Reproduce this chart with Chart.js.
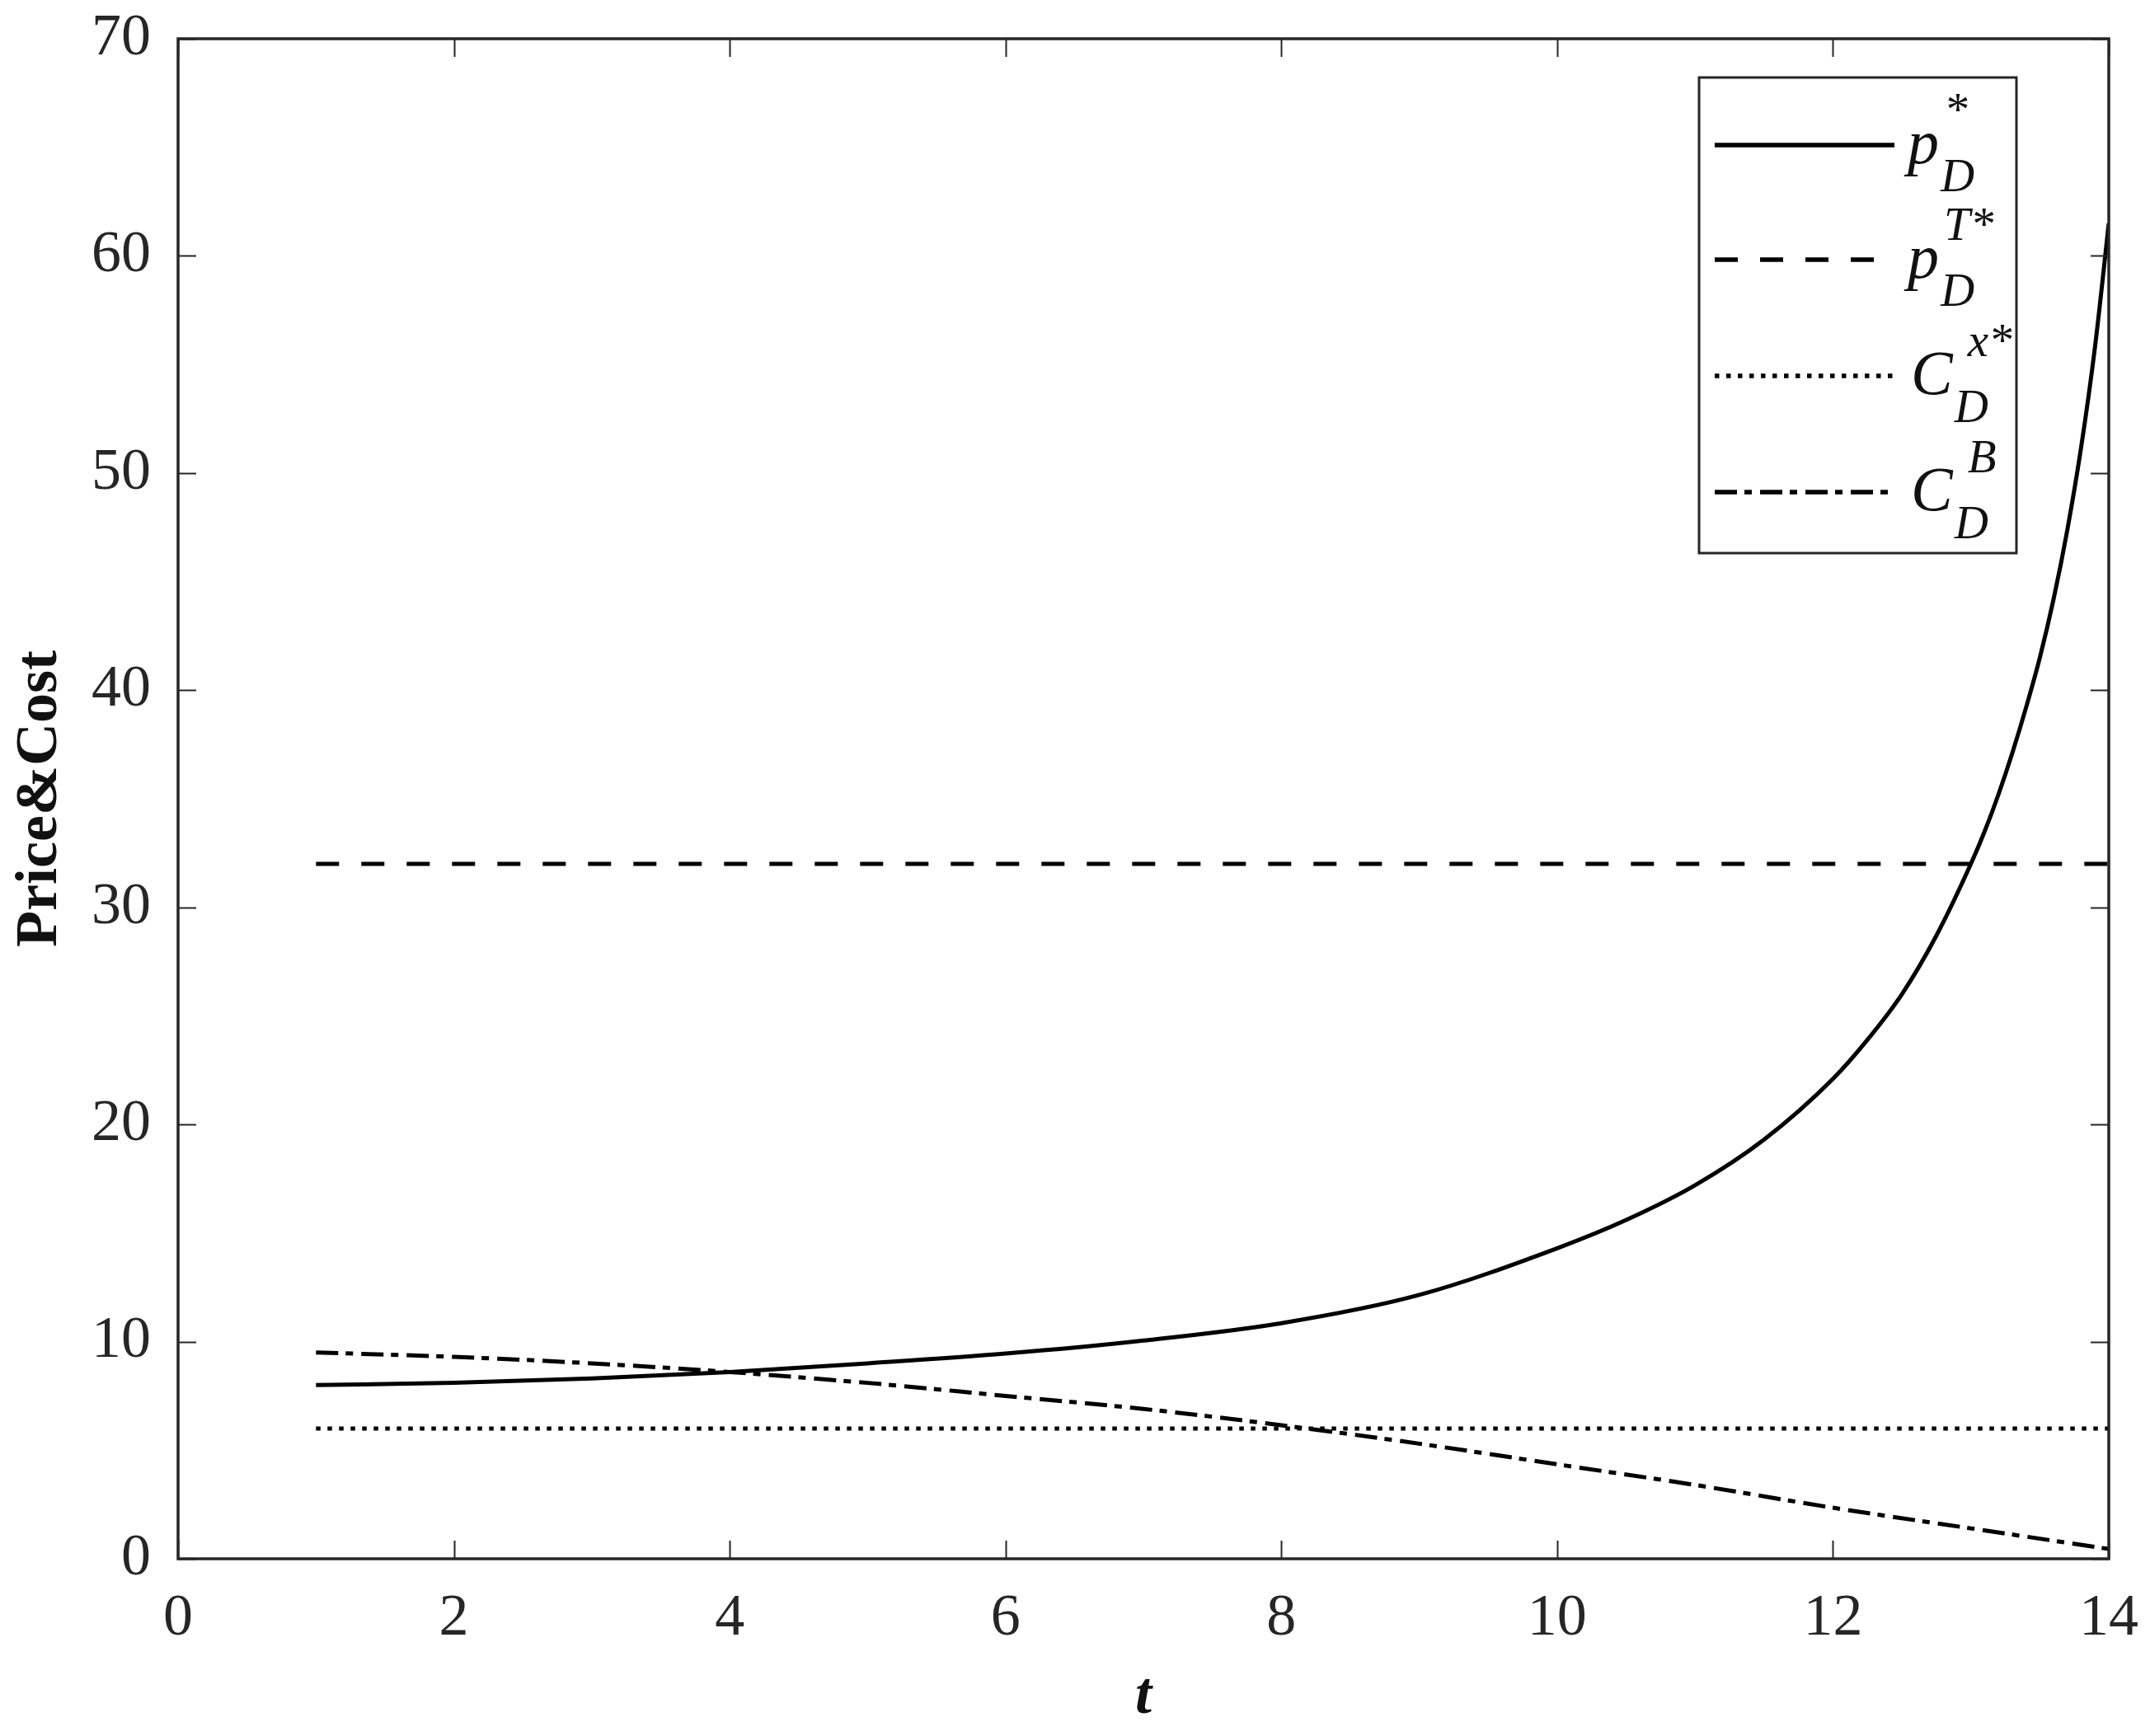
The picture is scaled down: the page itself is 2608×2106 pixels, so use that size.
<!DOCTYPE html>
<html><head><meta charset="utf-8">
<script src="https://cdn.jsdelivr.net/npm/chart.js@4.4.1/dist/chart.umd.min.js"></script>
<style>html,body{margin:0;padding:0;background:#fff;}</style>
</head><body>
<canvas id="c" width="2608" height="2106" style="display:block;width:2608px;height:2106px"></canvas>
<script>
// ---- data ----
const tP = [1,2,3,4,5,6,7,8,9,10,10.5,11,11.5,12,12.25,12.5,12.75,13,13.1,13.2,13.3,13.4,13.5,13.6,13.7,13.8,13.9,14];
const pD = [8.0,8.1,8.3,8.6,9.0,9.45,10.05,10.85,12.15,14.3,15.6,17.2,19.3,22.1,23.9,26.0,28.7,32.0,33.5,35.2,37.1,39.2,41.5,44.2,47.4,51.2,55.8,61.5];
const tConst = [1, 14];
const pDT = [32, 32];
const cDx = [6, 6];
const tB = [1,2,3,4,5,6,7,8,9,10,11,12,13,14];
const cDB = [9.5,9.3,9.0,8.6,8.1,7.5,6.9,6.15,5.3,4.35,3.4,2.35,1.4,0.45];
const xTicks = [0,2,4,6,8,10,12,14];
const yTicks = [0,10,20,30,40,50,60,70];
const legendItems = [
  {main:'p', sub:'D', sup:'*'},
  {main:'p', sub:'D', sup:'T*'},
  {main:'C', sub:'D', sup:'x*'},
  {main:'C', sub:'D', sup:'B'}
];
const xTitle = 't';
const yTitle = 'Price&Cost';

const FONT = '"Liberation Serif", "Times New Roman", serif';
const AX = '#262626';
const toPts = (xs, ys) => xs.map((x, i) => ({x: x, y: ys[i]}));

const dashStyles = [[], [28, 27], [5.5, 8.5], [27, 9, 9, 10]];
const datasets = [
  {label:'pD*', data: toPts(tP, pD)},
  {label:'pDT*', data: toPts(tConst, pDT)},
  {label:'CDx*', data: toPts(tConst, cDx)},
  {label:'CDB', data: toPts(tB, cDB)}
].map((d, i) => Object.assign(d, {
  borderColor:'#000', borderWidth: 5, borderDash: dashStyles[i], borderCapStyle:'butt',
  pointRadius: 0, fill: false, cubicInterpolationMode: 'monotone'
}));

const zeroPad = s => { s.paddingTop = 0; s.paddingBottom = 0; s.paddingLeft = 0; s.paddingRight = 0; };

const frame = {
  id: 'frame',
  afterDraw(chart) {
    const ctx = chart.ctx, a = chart.chartArea, xs = chart.scales.x, ys = chart.scales.y;
    ctx.save();
    ctx.strokeStyle = AX; ctx.lineWidth = 2;
    const TL = 22;
    ctx.beginPath();
    xs.ticks.forEach(t => {
      const px = Math.round(xs.getPixelForValue(t.value)) + 0.5;
      ctx.moveTo(px, a.bottom); ctx.lineTo(px, a.bottom - TL);
      ctx.moveTo(px, a.top); ctx.lineTo(px, a.top + TL);
    });
    ys.ticks.forEach(t => {
      const py = Math.round(ys.getPixelForValue(t.value)) + 0.5;
      ctx.moveTo(a.left, py); ctx.lineTo(a.left + TL, py);
      ctx.moveTo(a.right, py); ctx.lineTo(a.right - TL, py);
    });
    ctx.stroke();
    ctx.lineWidth = 3.5;
    ctx.strokeRect(a.left, a.top, a.right - a.left, a.bottom - a.top);

    // legend
    const L = {x0: 2061, y0: 94, x1: 2446, y1: 671};
    ctx.fillStyle = '#fff';
    ctx.fillRect(L.x0, L.y0, L.x1 - L.x0, L.y1 - L.y0);
    ctx.lineWidth = 3; ctx.strokeStyle = AX;
    ctx.strokeRect(L.x0, L.y0, L.x1 - L.x0, L.y1 - L.y0);
    const rows = [176, 315, 456, 597];
    legendItems.forEach((it, i) => {
      const ds = chart.data.datasets[i];
      const Ly = rows[i];
      ctx.save();
      ctx.strokeStyle = ds.borderColor; ctx.lineWidth = 5.5; ctx.lineCap = 'butt';
      ctx.setLineDash(ds.borderDash);
      ctx.beginPath(); ctx.moveTo(2080, Ly); ctx.lineTo(2298, Ly); ctx.stroke();
      ctx.restore();
      ctx.fillStyle = '#111';
      ctx.textBaseline = 'alphabetic'; ctx.textAlign = 'left';
      const mx = it.main === 'p' ? 2314 : 2318;
      ctx.font = 'italic 76px ' + FONT;
      ctx.fillText(it.main, mx, Ly + 22);
      const w = ctx.measureText(it.main).width;
      ctx.font = 'italic 57px ' + FONT;
      ctx.fillText(it.sub, mx + w + 2, Ly + 56);
      const supX = it.main === 'p' ? mx + w + 6 : mx + w + 18;
      ctx.fillText(it.sup, supX, Ly - 24);
    });
    ctx.restore();
  }
};

new Chart(document.getElementById('c'), {
  type: 'line',
  data: {datasets: datasets},
  plugins: [frame],
  options: {
    responsive: false, animation: false, devicePixelRatio: 1,
    layout: {padding: {top: 47, right: 50, left: 0, bottom: 0}},
    plugins: {legend: {display: false}, tooltip: {enabled: false}},
    scales: {
      x: {
        type: 'linear', min: 0, max: 14,
        afterBuildTicks: s => { s.ticks = xTicks.map(v => ({value: v})); },
        afterFit: s => { s.height = 215; zeroPad(s); },
        grid: {display: false, drawTicks: false},
        border: {display: false},
        ticks: {color: AX, font: {family: FONT, size: 72}, padding: 30, maxRotation: 0},
        title: {display: true, text: xTitle, color: '#111', font: {family: FONT, size: 72, weight: 'bold', style: 'italic'}, padding: {top: 0, bottom: 3}}
      },
      y: {
        type: 'linear', min: 0, max: 70,
        afterBuildTicks: s => { s.ticks = yTicks.map(v => ({value: v})); },
        afterFit: s => { s.width = 216; zeroPad(s); },
        grid: {display: false, drawTicks: false},
        border: {display: false},
        ticks: {color: AX, font: {family: FONT, size: 72}, padding: 33},
        title: {display: true, text: yTitle, color: '#111', font: {family: FONT, size: 72, weight: 'bold'}, padding: {top: 6, bottom: 0}}
      }
    }
  }
});
</script>
</body></html>
